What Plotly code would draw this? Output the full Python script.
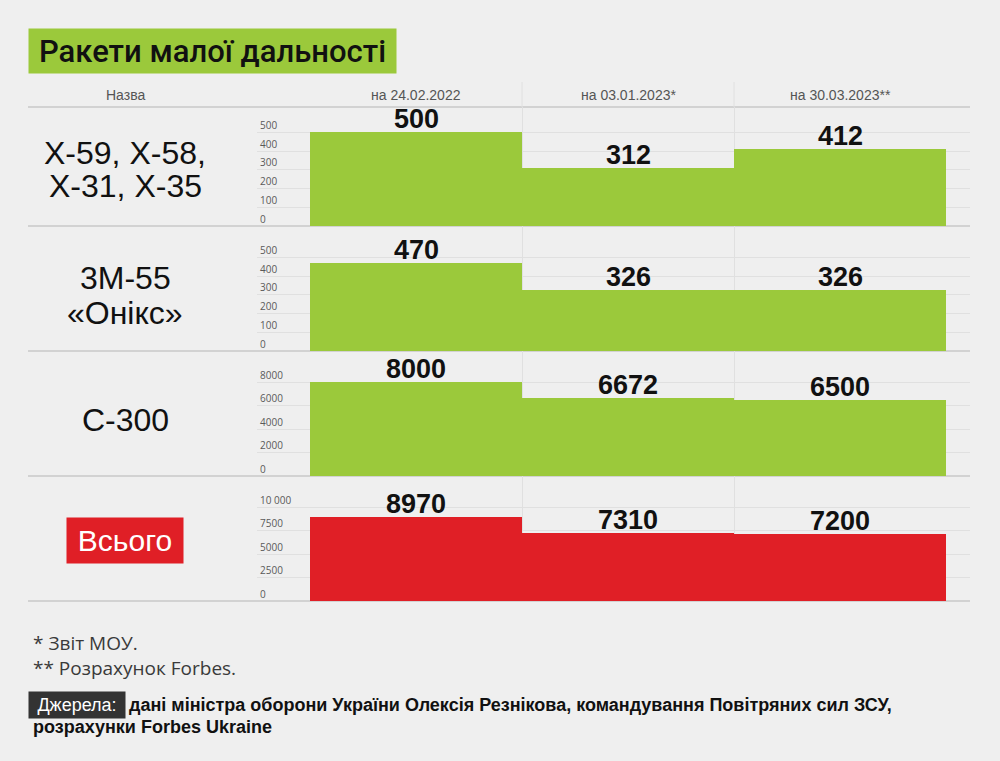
import plotly.graph_objects as go

W, H = 1000, 761

# ---------------- data ----------------
title = "Ракети малої дальності"
name_header = "Назва"
dates = ["на 24.02.2022", "на 03.01.2023*", "на 30.03.2023**"]
row_labels = [["Х-59, Х-58,", "Х-31, Х-35"], ["3М-55", "«Онікс»"], ["С-300"], ["Всього"]]
values_x59 = [500, 312, 412]
values_3m55 = [470, 326, 326]
values_s300 = [8000, 6672, 6500]
values_total = [8970, 7310, 7200]
ticks_small = [0, 100, 200, 300, 400, 500]
ticks_s300 = [0, 2000, 4000, 6000, 8000]
ticks_total = [0, 2500, 5000, 7500, 10000]
ticks_total_text = ["0", "2500", "5000", "7500", "10 000"]
footnotes = ["* Звіт МОУ.", "** Розрахунок Forbes."]
source_label = "Джерела:"
source_text = ["дані міністра оборони України Олексія Резнікова, командування Повітряних сил ЗСУ,",
               "розрахунки Forbes Ukraine"]

# ---------------- styling ----------------
BG = "#efefef"
GREEN = "#9bc93b"
RED = "#e01f26"
GRID = "#e0e0e0"
SEP = "#c8c8c8"
FONT = "Liberation Sans, Arial, sans-serif"


def py(px):
    return 1 - px / H


def px_x(px):
    return px / W


rows = [(107, 226), (226, 351), (351, 476), (476, 601)]
series = [values_x59, values_3m55, values_s300, values_total]
tickvals = [ticks_small, ticks_small, ticks_s300, ticks_total]
ticktexts = [[str(t) for t in ticks_small], [str(t) for t in ticks_small],
             [str(t) for t in ticks_s300], ticks_total_text]
colors = [GREEN, GREEN, GREEN, RED]
TOP_PX = 93.6  # pixel height of top tick above baseline

fig = go.Figure()
layout_axes = {}
ann = []
for i, (vals, (top, bot)) in enumerate(zip(series, rows)):
    n = i + 1
    xa = "x" if n == 1 else f"x{n}"
    ya = "y" if n == 1 else f"y{n}"
    xs = list(range(len(vals)))
    fig.add_trace(go.Bar(
        x=xs, y=vals, width=1,
        marker=dict(color=colors[i], line=dict(width=0)),
        xaxis=xa, yaxis=ya, showlegend=False, hoverinfo="skip",
    ))
    # value labels above the bars, positioned in data coordinates
    for xv, v in zip(xs, vals):
        ann.append(dict(text=str(v), x=xv, y=v, xref=xa, yref=ya, xanchor="center",
                        yanchor="bottom", yshift=-4, showarrow=False,
                        font=dict(family=FONT, size=27, color="#111111", weight="bold")))
    ymax = tickvals[i][-1] * (bot - top) / TOP_PX
    layout_axes["xaxis" if n == 1 else f"xaxis{n}"] = dict(
        domain=[px_x(257), px_x(970)], range=[-0.75, 2.613],
        anchor=ya, showticklabels=False, tickvals=[0.5, 1.5],
        showgrid=True, gridcolor=GRID, gridwidth=1, zeroline=False, showline=False,
        fixedrange=True,
    )
    layout_axes["yaxis" if n == 1 else f"yaxis{n}"] = dict(
        domain=[py(bot), py(top)], range=[0, ymax], anchor=xa,
        tickvals=tickvals[i], ticktext=ticktexts[i],
        ticklabelposition="inside", ticklabelshift=-7, ticks="",
        tickfont=dict(family="Open Sans, sans-serif", size=10, color="#5a5a5a"),
        showgrid=True, gridcolor=GRID, gridwidth=1, zeroline=False, showline=False,
        fixedrange=True,
    )

fig.update_layout(**layout_axes)

shapes = []
for y in [107, 226, 351, 476, 601]:
    shapes.append(dict(type="line", xref="paper", yref="paper", x0=px_x(28), x1=px_x(970),
                       y0=py(y), y1=py(y), line=dict(color=SEP, width=1.5), layer="below"))
for xv in [0.5, 1.5]:
    shapes.append(dict(type="line", xref="x", yref="paper", x0=xv, x1=xv,
                       y0=py(107), y1=py(82), line=dict(color=GRID, width=1), layer="below"))


def add(text, x, y, xref="paper", xanchor="center", **kw):
    d = dict(text=text, x=x, y=y, xref=xref, yref="paper", xanchor=xanchor,
             yanchor="middle", showarrow=False)
    d.update(kw)
    ann.append(d)


# title
ann.append(dict(text=title, x=px_x(28), y=py(28), xref="paper", yref="paper",
                xanchor="left", yanchor="top", showarrow=False, bgcolor=GREEN,
                width=359, height=36, borderpad=4, align="center",
                font=dict(family="Roboto, " + FONT, size=31, color="#111111", weight=500)))
# headers
add(name_header, px_x(125), py(95), font=dict(family=FONT, size=14, color="#555555"))
for j, d in enumerate(dates):
    add(d, j, py(95), xref="x", font=dict(family=FONT, size=14, color="#555555"))
# row labels
label_y = [[153, 186], [278, 313], [420], [540]]
for i, lines in enumerate(row_labels):
    for line, yy in zip(lines, label_y[i]):
        if i == 3:
            add(line, px_x(125), py(yy), bgcolor=RED, width=108, height=37, borderpad=4,
                font=dict(family=FONT, size=30, color="white"))
        else:
            add(line, px_x(125), py(yy), font=dict(family=FONT, size=32, color="#111111"))
# footnotes
add("<br>".join(footnotes), px_x(31), py(655), xanchor="left", align="left",
    font=dict(family="Open Sans, sans-serif", size=19, color="#3a3a3a", weight=500))
add(source_label, px_x(28), py(705), xanchor="left", bgcolor="#333333", borderpad=3,
    width=90, font=dict(family=FONT, size=18, color="white"))
add(source_text[0], px_x(127), py(705), xanchor="left",
    font=dict(family=FONT, size=18, color="#111111", weight="bold"))
add(source_text[1], px_x(31), py(727), xanchor="left",
    font=dict(family=FONT, size=18, color="#111111", weight="bold"))

fig.update_layout(
    width=W, height=H, margin=dict(l=0, r=0, t=0, b=0),
    paper_bgcolor=BG, plot_bgcolor="rgba(0,0,0,0)",
    bargap=0, shapes=shapes, annotations=ann, showlegend=False,
)

fig.write_html("out.html", include_plotlyjs=True, config={"displayModeBar": False},
               post_script="document.body.style.margin='0';")
